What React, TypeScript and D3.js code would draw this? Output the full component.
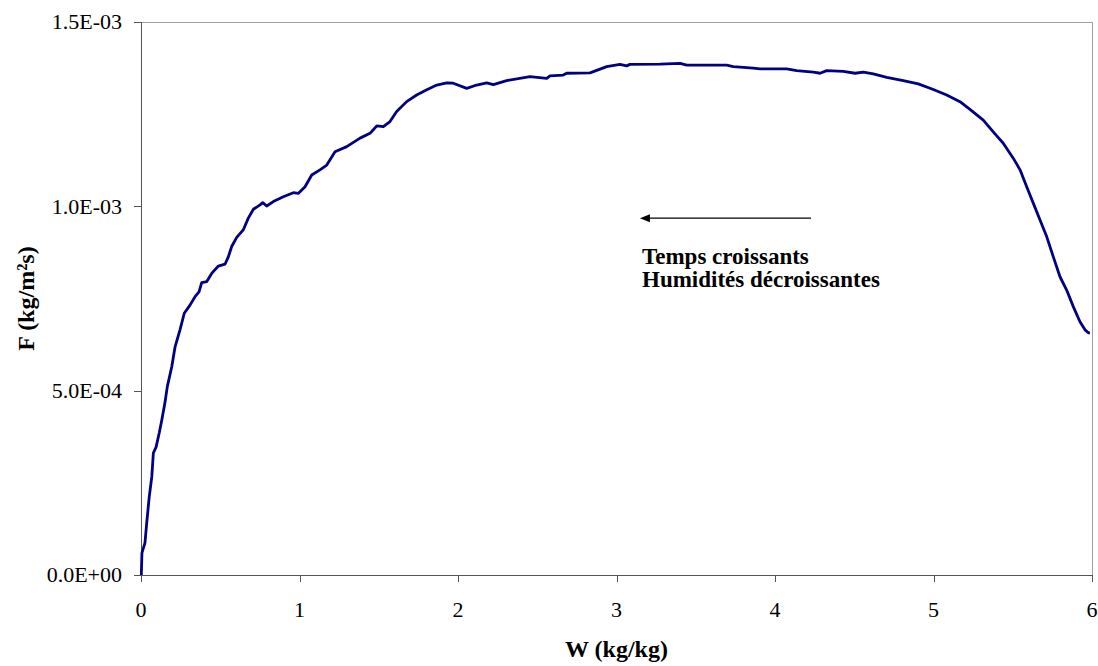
import React from "react";
import * as d3 from "d3";

const W_VALUES: number[] = [
  0.002, 0.006, 0.025, 0.036, 0.052, 0.068, 0.078, 0.095, 0.115, 0.131, 0.151, 0.166, 0.194, 0.215, 0.246,
  0.273, 0.309, 0.341, 0.366, 0.383, 0.415, 0.446, 0.488, 0.530, 0.551, 0.572, 0.604, 0.645, 0.677, 0.709,
  0.751, 0.768, 0.793, 0.835, 0.898, 0.961, 0.992, 1.035, 1.077, 1.129, 1.172, 1.224, 1.298, 1.382, 1.445,
  1.487, 1.529, 1.571, 1.613, 1.676, 1.739, 1.803, 1.866, 1.929, 1.970, 2.055, 2.118, 2.181, 2.223, 2.307,
  2.454, 2.560, 2.580, 2.664, 2.686, 2.833, 2.938, 3.022, 3.064, 3.085, 3.274, 3.401, 3.443, 3.695, 3.737,
  3.863, 3.905, 4.074, 4.137, 4.242, 4.284, 4.326, 4.431, 4.505, 4.557, 4.620, 4.705, 4.809, 4.904, 4.999,
  5.083, 5.167, 5.230, 5.314, 5.377, 5.440, 5.504, 5.546, 5.588, 5.630, 5.672, 5.714, 5.756, 5.798, 5.840,
  5.882, 5.924, 5.956, 5.977, 5.987,
];

// F in units of 1e-3 kg/m²s
const F_VALUES: number[] = [
  0.0, 0.060, 0.087, 0.141, 0.212, 0.266, 0.331, 0.347, 0.385, 0.420, 0.467, 0.511, 0.565, 0.619, 0.665,
  0.710, 0.732, 0.755, 0.768, 0.793, 0.796, 0.818, 0.838, 0.843, 0.863, 0.891, 0.916, 0.936, 0.968, 0.992,
  1.004, 1.010, 1.001, 1.013, 1.026, 1.037, 1.035, 1.053, 1.085, 1.099, 1.112, 1.148, 1.162, 1.185, 1.198,
  1.218, 1.216, 1.230, 1.257, 1.284, 1.302, 1.316, 1.329, 1.335, 1.334, 1.320, 1.329, 1.335, 1.330, 1.341,
  1.352, 1.347, 1.354, 1.356, 1.361, 1.362, 1.379, 1.385, 1.381, 1.385, 1.386, 1.388, 1.383, 1.383, 1.379,
  1.375, 1.373, 1.373, 1.368, 1.364, 1.361, 1.368, 1.366, 1.361, 1.364, 1.359, 1.350, 1.341, 1.332, 1.317,
  1.302, 1.284, 1.263, 1.234, 1.202, 1.171, 1.130, 1.099, 1.053, 1.008, 0.963, 0.918, 0.863, 0.809, 0.773,
  0.728, 0.687, 0.665, 0.657, 0.657,
];

const X_TICKS: number[] = [0, 1, 2, 3, 4, 5, 6];
const Y_TICKS: number[] = [0, 0.0005, 0.001, 0.0015];
const Y_TICK_LABELS: string[] = ["0.0E+00", "5.0E-04", "1.0E-03", "1.5E-03"];

const X_TITLE = "W (kg/kg)";
const Y_TITLE = "F (kg/m²s)";
const NOTE_LINES: string[] = ["Temps croissants", "Humidités décroissantes"];
const ARROW_W: number[] = [4.227, 3.148];
const ARROW_F = 0.000968;

const WIDTH = 1098;
const HEIGHT = 666;
const LEFT = 141;
const RIGHT = 1092;
const TOP = 22;
const BOTTOM = 575;
const FONT = '"Liberation Serif", "Times New Roman", serif';
const FS_TICK = 22;
const FS_NOTE = 23;
const FS_TITLE = 24;
const TXT: React.CSSProperties = { fontFamily: FONT };

export default function App() {
  const x = d3.scaleLinear().domain([0, 6]).range([LEFT, RIGHT]);
  const y = d3.scaleLinear().domain([0, 0.0015]).range([BOTTOM, TOP]);

  const data = W_VALUES.map((w, i) => [w, F_VALUES[i] * 1e-3] as [number, number]);
  const line = d3
    .line<[number, number]>()
    .x((d) => x(d[0]))
    .y((d) => y(d[1]));

  const ax0 = x(ARROW_W[0]);
  const ax1 = x(ARROW_W[1]);
  const ay = y(ARROW_F);

  return (
    <svg
      width={WIDTH}
      height={HEIGHT}
      style={{ position: "absolute", left: 0, top: 0, background: "#fff" }}
    >
      <rect x={0} y={0} width={WIDTH} height={HEIGHT} fill="#fff" />
      <line x1={LEFT} x2={RIGHT} y1={TOP + 0.5} y2={TOP + 0.5} stroke="#a0a0a0" strokeWidth={1} />
      <line x1={RIGHT + 0.5} x2={RIGHT + 0.5} y1={TOP} y2={BOTTOM} stroke="#a0a0a0" strokeWidth={1} />
      <line x1={LEFT + 0.5} x2={LEFT + 0.5} y1={TOP} y2={BOTTOM} stroke="#555" strokeWidth={1} />
      <line x1={LEFT} x2={RIGHT + 1} y1={BOTTOM + 0.5} y2={BOTTOM + 0.5} stroke="#555" strokeWidth={1} />
      {Y_TICKS.map((t, i) => (
        <g key={"y" + i}>
          <line x1={LEFT - 7} x2={LEFT} y1={Math.round(y(t)) + 0.5} y2={Math.round(y(t)) + 0.5} stroke="#555" />
          <text x={122} y={y(t)} dy="0.34em" textAnchor="end" fontSize={FS_TICK} fill="#000" style={TXT}>
            {Y_TICK_LABELS[i]}
          </text>
        </g>
      ))}
      {X_TICKS.map((t, i) => (
        <g key={"x" + i}>
          <line x1={Math.round(x(t)) + 0.5} x2={Math.round(x(t)) + 0.5} y1={BOTTOM} y2={BOTTOM + 7} stroke="#555" />
          <text x={x(t)} y={617} textAnchor="middle" fontSize={FS_TICK} fill="#000" style={TXT}>
            {t}
          </text>
        </g>
      ))}
      <path d={line(data) || ""} fill="none" stroke="#000080" strokeWidth={2.8} strokeLinejoin="round" />
      <text x={(LEFT + RIGHT) / 2} y={657} textAnchor="middle" fontSize={FS_TITLE} fontWeight="bold" fill="#000" style={TXT}>
        {X_TITLE}
      </text>
      <text
        transform={`translate(34, ${(TOP + BOTTOM) / 2}) rotate(-90)`}
        textAnchor="middle"
        fontSize={FS_TITLE}
        fontWeight="bold"
        fill="#000"
        style={TXT}
      >
        {Y_TITLE}
      </text>
      <line x1={ax0} x2={ax1 + 8} y1={ay} y2={ay} stroke="#000" strokeWidth={1.3} />
      <path d={`M${ax1},${ay} L${ax1 + 10},${ay - 4} L${ax1 + 10},${ay + 4} Z`} fill="#000" />
      {NOTE_LINES.map((s, i) => (
        <text key={"n" + i} x={642} y={264 + i * 23} fontSize={FS_NOTE} fontWeight="bold" fill="#000" style={TXT}>
          {s}
        </text>
      ))}
    </svg>
  );
}
